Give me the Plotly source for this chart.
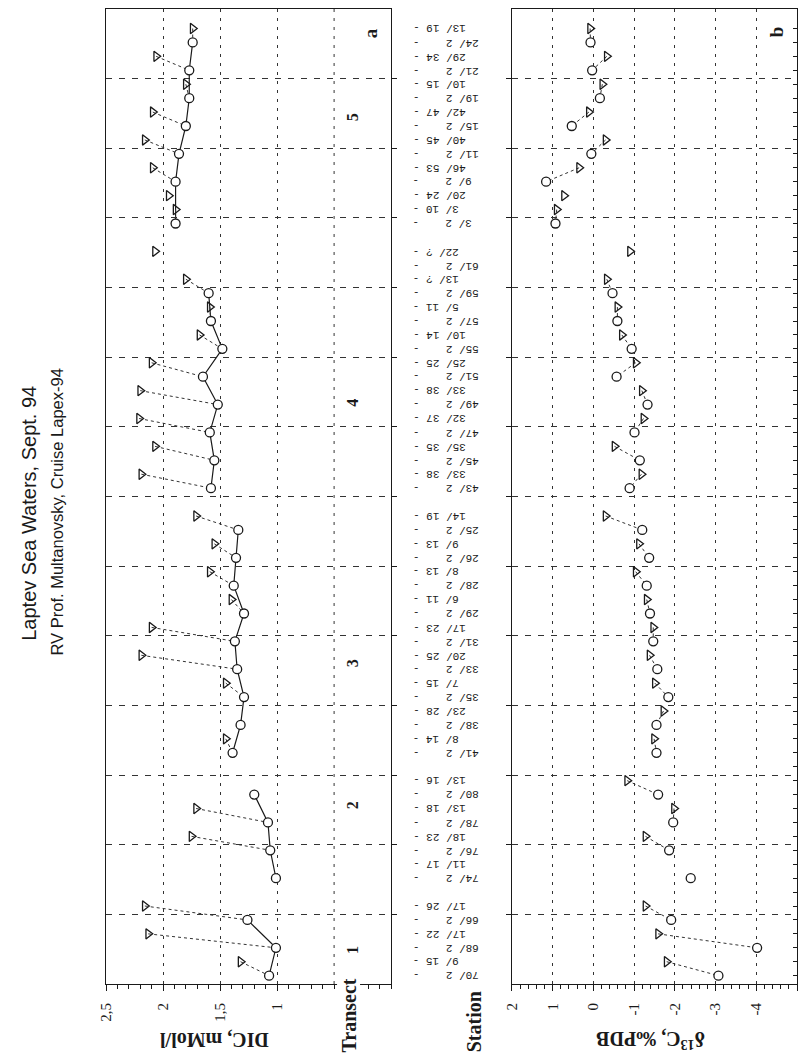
import plotly.graph_objects as go

W, H = 799, 1056

# Station rows along the transects, bottom to top ("" = gap between transects)
station_labels = [
    "70/ 2", "9/ 15", "68/ 2", "17/ 22", "66/ 2", "17/ 26", "",
    "74/ 2", "11/ 17", "76/ 2", "18/ 23", "78/ 2", "13/ 18", "80/ 2", "13/ 16", "",
    "41/ 2", "8/ 14", "38/ 2", "23/ 28", "35/ 2", "7/ 15", "33/ 2", "20/ 25",
    "31/ 2", "17/ 23", "29/ 2", "6/ 11", "28/ 2", "8/ 13", "26/ 2", "9/ 13",
    "25/ 2", "14/ 19", "",
    "43/ 2", "33/ 38", "45/ 2", "35/ 35", "47/ 2", "32/ 37", "49/ 2", "33/ 38",
    "51/ 2", "25/ 25", "55/ 2", "10/ 14", "57/ 2", "5/ 11", "59/ 2", "13/ ?",
    "61/ 2", "22/ ?", "",
    "3/ 2", "3/ 10", "20/ 24", "9/ 2", "46/ 53", "11/ 2", "40/ 45", "15/ 2",
    "42/ 47", "19/ 2", "10/ 15", "21/ 2", "29/ 34", "24/ 2", "13/ 19",
]

# DIC, mMol/l (surface rows "/ 2" are circles, the others triangles)
dic_values = [
    1.07, 1.32, 1.01, 2.13, 1.26, 2.16, None,
    1.01, None, 1.06, 1.75, 1.08, 1.71, 1.20, None, None,
    1.39, 1.45, 1.32, None, 1.29, 1.45, 1.35, 2.19,
    1.37, 2.10, 1.29, 1.40, 1.38, 1.59, 1.36, 1.55,
    1.34, 1.71, None,
    1.58, 2.19, 1.55, 2.07, 1.59, 2.21, 1.52, 2.20,
    1.65, 2.10, 1.48, 1.68, 1.58, 1.59, 1.60, 1.80,
    None, 2.07, None,
    1.89, 1.89, 1.95, 1.89, 2.09, 1.86, 2.16, 1.80,
    2.09, 1.77, 1.80, 1.77, 2.06, 1.74, 1.74,
]

# delta 13C, permil PDB
d13c_values = [
    -3.07, -1.80, -4.02, -1.59, -1.91, -1.28, None,
    -2.39, None, -1.86, -1.28, -1.96, -1.98, -1.59, -0.83, None,
    -1.55, -1.49, -1.55, -1.72, -1.84, -1.51, -1.57, -1.38,
    -1.47, -1.47, -1.39, -1.31, -1.31, -1.04, -1.37, -1.12,
    -1.20, -0.30, None,
    -0.89, -1.18, -1.14, -0.52, -1.01, -1.23, -1.33, -1.19,
    -0.57, -1.04, -0.94, -0.70, -0.59, -0.59, -0.47, -0.33,
    None, -0.90, None,
    0.93, 0.90, 0.72, 1.16, 0.35, 0.05, -0.30, 0.53,
    0.11, -0.16, -0.22, 0.03, -0.33, 0.07, 0.08,
]

transect_names = ["1", "2", "3", "4", "5"]
transect_label_pos = [2.4, 12.8, 23.0, 41.7, 62.2]

dic_ticks = [1, 1.5, 2, 2.5]
dic_ticktext = ["1", "1,5", "2", "2,5"]
dic_grid_extra = [0.5]
d13c_ticks = [-5, -4, -3, -2, -1, 0, 1, 2]
d13c_ticktext = ["-5", "-4", "-3", "-2", "-1", "0", "1", "2"]


def px(x):
    return x / W


def py(y):
    return 1 - y / H


n = len(station_labels)
ypos = [i + 0.6 for i in range(n)]
is_surface = [lab.endswith("/ 2") for lab in station_labels]

# group rows into transects, separated by the empty rows
transects, cur = [], []
for i, lab in enumerate(station_labels):
    if lab == "":
        if cur:
            transects.append(cur)
        cur = []
    else:
        cur.append(i)
if cur:
    transects.append(cur)

SERIF = "Liberation Serif"
INK = "#1a1a1a"
GRID = "#333"


def panel_traces(values, xa, ya, join_surface):
    traces = []
    if join_surface:
        lx, ly = [], []
        for rows in transects:
            for i in rows:
                if is_surface[i] and values[i] is not None:
                    lx.append(values[i])
                    ly.append(ypos[i])
            lx.append(None)
            ly.append(None)
        traces.append(go.Scatter(x=lx, y=ly, mode="lines", xaxis=xa, yaxis=ya,
                                 line=dict(color=INK, width=1.2),
                                 connectgaps=False, hoverinfo="skip"))
    # dotted links: deeper sample to its surface sample
    dx, dy = [], []
    for i in range(1, n):
        if (not is_surface[i] and values[i] is not None and is_surface[i - 1]
                and values[i - 1] is not None):
            dx += [values[i], values[i - 1], None]
            dy += [ypos[i], ypos[i - 1], None]
    traces.append(go.Scatter(x=dx, y=dy, mode="lines", xaxis=xa, yaxis=ya,
                             line=dict(color="#333", width=1, dash="dot"),
                             connectgaps=False, hoverinfo="skip"))
    cx = [values[i] for i in range(n) if is_surface[i] and values[i] is not None]
    cy = [ypos[i] for i in range(n) if is_surface[i] and values[i] is not None]
    tx = [values[i] for i in range(n) if not is_surface[i] and station_labels[i] and values[i] is not None]
    ty = [ypos[i] for i in range(n) if not is_surface[i] and station_labels[i] and values[i] is not None]
    traces.append(go.Scatter(x=tx, y=ty, mode="markers", xaxis=xa, yaxis=ya,
                             marker=dict(symbol="triangle-right-open", size=9,
                                         color=INK, line=dict(width=1.3, color=INK))))
    traces.append(go.Scatter(x=cx, y=cy, mode="markers", xaxis=xa, yaxis=ya,
                             marker=dict(symbol="circle", size=9, color="white",
                                         line=dict(width=1.3, color=INK))))
    return traces


fig = go.Figure()
for t in panel_traces(dic_values, "x", "y", True):
    fig.add_trace(t)
for t in panel_traces(d13c_values, "x2", "y2", False):
    fig.add_trace(t)
# carrier for the row ticks on the right edge of panel b
fig.add_trace(go.Scatter(x=[None], y=[None], xaxis="x2", yaxis="y3",
                         mode="markers", hoverinfo="skip"))

ydom = [py(984), py(9)]
grid_v = dict(showgrid=True, gridcolor=GRID, gridwidth=1, griddash="3px,6px")
grid_h = dict(showgrid=True, gridcolor=GRID, gridwidth=1, griddash="6px,7px")
frame = dict(showline=True, mirror=True, linecolor=INK, linewidth=1.2, zeroline=False)

fig.update_layout(
    width=W, height=H, margin=dict(l=0, r=0, t=0, b=0),
    paper_bgcolor="white", plot_bgcolor="white", showlegend=False,
    xaxis=dict(domain=[px(99), px(387)], range=[2.5, 0], anchor="y",
               tickvals=dic_ticks, ticktext=dic_ticktext, tickangle=-90,
               ticks="outside", ticklen=6, tickcolor=INK, ticklabelstandoff=6,
               minor=dict(dtick=0.1, tick0=0, ticks="outside", ticklen=4,
                          tickcolor=INK, showgrid=False),
               tickfont=dict(family=SERIF, size=15, color=INK), **grid_v, **frame),
    yaxis=dict(domain=ydom, range=[0, 70], anchor="x", side="right",
               tickvals=list(range(5, 70, 5)), ticks="outside", ticklen=5,
               tickcolor=INK, showticklabels=False, **grid_h, **frame),
    xaxis2=dict(domain=[px(509), px(797)], range=[2, -5], anchor="y2",
                tickvals=d13c_ticks, ticktext=d13c_ticktext, tickangle=-90,
                ticks="outside", ticklen=6, tickcolor=INK, ticklabelstandoff=6,
                minor=dict(dtick=0.2, tick0=0, ticks="outside", ticklen=4,
                           tickcolor=INK, showgrid=False),
                tickfont=dict(family=SERIF, size=15, color=INK), **grid_v, **frame),
    yaxis2=dict(domain=ydom, range=[0, 70], anchor="x2", side="left",
                tickvals=list(range(5, 70, 5)), ticks="outside", ticklen=5,
                tickcolor=INK, showticklabels=False, **grid_h, **frame),
    yaxis3=dict(range=[0, 70], overlaying="y2", anchor="x2", side="right",
                tickvals=ypos, ticks="inside", ticklen=4, tickcolor=INK,
                showticklabels=False, showgrid=False, showline=False,
                zeroline=False),
)

# grid line of the unlabelled 0.5 tick on the DIC axis
shapes = []
for v in dic_grid_extra:
    shapes.append(dict(type="line", xref="x", yref="y domain", x0=v, x1=v, y0=0, y1=1,
                       line=dict(color=GRID, width=1, dash="3px,6px"), layer="below"))
fig.update_layout(shapes=shapes)

ann = []
NB = "\u00a0"
# station labels between the panels
for i, lab in enumerate(station_labels):
    if not lab:
        continue
    text = lab.replace(" ", NB) + (NB * 4 if is_surface[i] else NB) + "-"
    ann.append(dict(x=px(407), xref="paper", xanchor="left", y=ypos[i], yref="y2",
                    yanchor="middle", text=text, showarrow=False, textangle=180,
                    font=dict(family="Liberation Mono", size=11, color=INK)))

for name, pos in zip(transect_names, transect_label_pos):
    ann.append(dict(x=px(348), xref="paper", y=pos, yref="y", text=f"<b>{name}</b>",
                    xanchor="center", yanchor="middle",
                    showarrow=False, textangle=-90,
                    font=dict(family=SERIF, size=16, color=INK)))

labels = [
    dict(x=px(21), y=py(513), text="Laptev Sea Waters, Sept. 94", textangle=-90,
         font=dict(family="Liberation Sans", size=20, color=INK)),
    dict(x=px(50), y=py(512), text="RV Prof. Multanovsky, Cruise Lapex-94", textangle=-90,
         font=dict(family="Liberation Sans", size=16.5, color=INK)),
    dict(x=px(366), y=py(33), text="<b>a</b>", textangle=-90,
         font=dict(family=SERIF, size=19, color=INK)),
    dict(x=px(777), y=py(32), text="<b>b</b>", textangle=-90,
         font=dict(family=SERIF, size=19, color=INK)),
    dict(x=px(344), y=py(1016), text="<b>Transect</b>", textangle=-90,
         bgcolor="white", borderpad=0,
         font=dict(family=SERIF, size=20, color=INK)),
    dict(x=px(471), y=py(1022), text="<b>Station</b>", textangle=-90,
         font=dict(family=SERIF, size=20, color=INK)),
    dict(x=px(208), y=py(1040), text="<b>DIC, mMol/l</b>", textangle=180,
         font=dict(family=SERIF, size=20, color=INK)),
    dict(x=px(649), y=py(1040), text="<b>\u03b4<sup>13</sup>C, \u2030PDB</b>", textangle=180,
         font=dict(family=SERIF, size=20, color=INK)),
]
for a in labels:
    a.update(xref="paper", yref="paper", xanchor="center", yanchor="middle",
             showarrow=False)
ann += labels

fig.update_layout(annotations=ann)
fig.write_html("out.html")
